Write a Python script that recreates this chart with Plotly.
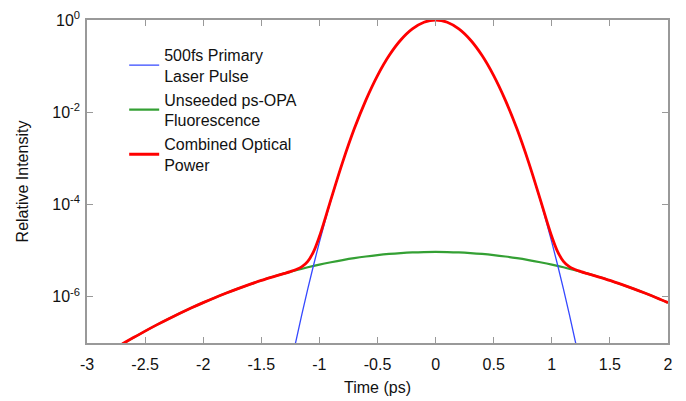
import plotly.graph_objects as go

# Time axis (ps) and values
t_blue = [-1.21, -1.2, -1.15, -1.1, -1.05, -1.0, -0.95, -0.9, -0.8, -0.7, -0.6, -0.5, -0.4, -0.3, -0.2, -0.1, 0.0,
          0.1, 0.2, 0.3, 0.4, 0.5, 0.6, 0.7, 0.8, 0.9, 0.95, 1.0, 1.05, 1.1, 1.15, 1.2, 1.21]
primary = [8.9e-8, 1.16e-7, 4.27e-7, 1.49e-6, 4.90e-6, 1.53e-5, 4.50e-5, 1.25e-4, 8.27e-4, 4.37e-3, 1.84e-2, 6.25e-2,
           0.170, 0.369, 0.642, 0.895, 1.0,
           0.895, 0.642, 0.369, 0.170, 6.25e-2, 1.84e-2, 4.37e-3, 8.27e-4, 1.25e-4, 4.50e-5, 1.53e-5, 4.90e-6,
           1.49e-6, 4.27e-7, 1.16e-7, 8.9e-8]

t_opa = [-2.7, -2.6, -2.5, -2.4, -2.3, -2.2, -2.1, -2.0, -1.9, -1.8, -1.7, -1.6, -1.5, -1.4, -1.3, -1.2, -1.1,
         -1.0, -0.9, -0.8, -0.7, -0.6, -0.5, -0.4, -0.3, -0.2, -0.1, 0.0, 0.1, 0.2, 0.3, 0.4, 0.5, 0.6, 0.7,
         0.8, 0.9, 1.0, 1.1, 1.2, 1.3, 1.4, 1.5, 1.6, 1.7, 1.8, 1.9, 2.0]
fluorescence = [9.4e-8, 1.31e-7, 1.81e-7, 2.47e-7, 3.32e-7, 4.41e-7, 5.79e-7, 7.50e-7, 9.60e-7, 1.21e-6, 1.51e-6,
                1.86e-6, 2.27e-6, 2.72e-6, 3.23e-6, 3.78e-6, 4.38e-6, 5.00e-6, 5.63e-6, 6.27e-6, 6.90e-6, 7.49e-6,
                8.03e-6, 8.50e-6, 8.88e-6, 9.17e-6, 9.34e-6, 9.40e-6, 9.34e-6, 9.17e-6, 8.88e-6, 8.50e-6, 8.03e-6,
                7.49e-6, 6.90e-6, 6.27e-6, 5.63e-6, 5.00e-6, 4.38e-6, 3.78e-6, 3.23e-6, 2.72e-6, 2.27e-6, 1.86e-6,
                1.51e-6, 1.21e-6, 9.60e-7, 7.50e-7]

t_comb = [-2.7, -2.6, -2.5, -2.4, -2.3, -2.2, -2.1, -2.0, -1.9, -1.8, -1.7, -1.6, -1.5, -1.4, -1.3, -1.25, -1.2,
          -1.15, -1.1, -1.05, -1.0, -0.95, -0.9, -0.8, -0.7, -0.6, -0.5, -0.4, -0.3, -0.2, -0.1, 0.0,
          0.1, 0.2, 0.3, 0.4, 0.5, 0.6, 0.7, 0.8, 0.9, 0.95, 1.0, 1.05, 1.1, 1.15, 1.2, 1.25, 1.3, 1.4, 1.5,
          1.6, 1.7, 1.8, 1.9, 2.0]
combined = [9.4e-8, 1.31e-7, 1.81e-7, 2.47e-7, 3.32e-7, 4.41e-7, 5.79e-7, 7.50e-7, 9.60e-7, 1.21e-6, 1.51e-6,
            1.86e-6, 2.27e-6, 2.72e-6, 3.23e-6, 3.53e-6, 3.90e-6, 4.50e-6, 5.87e-6, 9.58e-6, 2.03e-5, 5.03e-5,
            1.31e-4, 8.33e-4, 4.38e-3, 1.84e-2, 6.25e-2, 0.170, 0.369, 0.642, 0.895, 1.0,
            0.895, 0.642, 0.369, 0.170, 6.25e-2, 1.84e-2, 4.38e-3, 8.33e-4, 1.31e-4, 5.03e-5, 2.03e-5, 9.58e-6,
            5.87e-6, 4.50e-6, 3.90e-6, 3.53e-6, 3.23e-6, 2.72e-6, 2.27e-6, 1.86e-6, 1.51e-6, 1.21e-6, 9.60e-7,
            7.50e-7]

x_ticks = [-3, -2.5, -2, -1.5, -1, -0.5, 0, 0.5, 1, 1.5, 2]
x_tick_text = ["-3", "-2.5", "-2", "-1.5", "-1", "-0.5", "0", "0.5", "1", "1.5", "2"]
y_ticks = [1e-6, 1e-4, 1e-2, 1]
y_tick_text = ["10<sup>-6</sup>", "10<sup>-4</sup>", "10<sup>-2</sup>", "10<sup>0</sup>"]
x_title = "Time (ps)"
y_title = "Relative Intensity"

FONT = "Liberation Sans, Arial, sans-serif"
FS = 16

fig = go.Figure()
fig.add_trace(go.Scatter(x=t_opa, y=fluorescence, mode="lines", name="Unseeded ps-OPA<br>Fluorescence",
                         line=dict(color="#34a034", width=2.2, shape="spline"), legendrank=2))
fig.add_trace(go.Scatter(x=t_blue, y=primary, mode="lines", name="500fs Primary<br>Laser Pulse",
                         line=dict(color="#3548ff", width=1.3, shape="spline"), legendrank=1))
fig.add_trace(go.Scatter(x=t_comb, y=combined, mode="lines", name="Combined Optical<br>Power",
                         line=dict(color="#ff0000", width=2.8, shape="spline"), legendrank=3))

axis_common = dict(showline=True, linecolor="#999999", linewidth=1.5, mirror="ticks", ticks="inside",
                   ticklen=6, tickcolor="#999999", tickwidth=1, showgrid=False, zeroline=False,
                   automargin=False, tickfont=dict(family=FONT, size=FS, color="#111111"))

fig.update_layout(
    width=670, height=393,
    margin=dict(l=79, r=10, t=12, b=58),
    paper_bgcolor="white", plot_bgcolor="white",
    font=dict(family=FONT, size=FS, color="#111111"),
    showlegend=True,
    legend=dict(x=0.064, y=0.945, xanchor="left", yanchor="top", bgcolor="rgba(0,0,0,0)",
                font=dict(family=FONT, size=FS), tracegroupgap=0, itemwidth=30),
    xaxis=dict(range=[-3, 2], tickvals=x_ticks, ticktext=x_tick_text, ticklabelstandoff=6, **axis_common),
    yaxis=dict(type="log", range=[-7, 0], tickvals=y_ticks, ticktext=y_tick_text, ticklabelstandoff=2,
               title=dict(text=y_title, font=dict(family=FONT, size=FS), standoff=20),
               **axis_common),
    annotations=[dict(text=x_title, xref="paper", yref="paper", x=0.5, y=-0.138, xanchor="center",
                      yanchor="middle", showarrow=False, font=dict(family=FONT, size=FS, color="#111111"))],
)

fig.write_html("out.html")
